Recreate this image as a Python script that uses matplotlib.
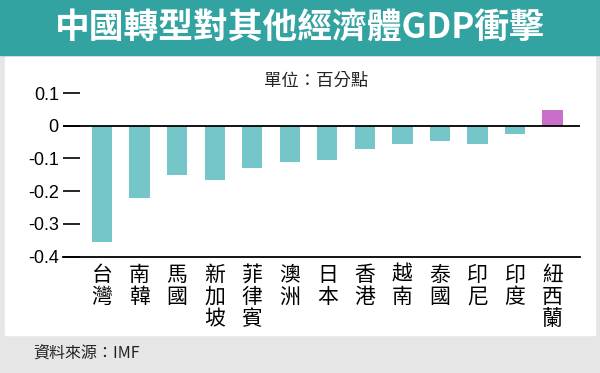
import matplotlib
matplotlib.use("Agg")
import matplotlib.pyplot as plt
from matplotlib.patches import Rectangle

categories = ["台灣", "南韓", "馬國", "新加坡", "菲律賓", "澳洲", "日本",
              "香港", "越南", "泰國", "印尼", "印度", "紐西蘭"]
values = [-0.355, -0.22, -0.15, -0.165, -0.13, -0.11, -0.105,
          -0.07, -0.056, -0.048, -0.056, -0.025, 0.048]
yticks = [0.1, 0, -0.1, -0.2, -0.3, -0.4]
yticklabels = ["0.1", "0", "-0.1", "-0.2", "-0.3", "-0.4"]

title = "中國轉型對其他經濟體GDP衝擊"
unit = "單位：百分點"
source = "資料來源：IMF"

CJK = ["Noto Sans CJK TC", "DejaVu Sans"]
teal_head = "#33a3a2"
bar_teal = "#74c6c8"
bar_purple = "#c96fc9"
frame_gray = "#e6e6e6"

W, H = 600, 373
fig = plt.figure(figsize=(6, 3.73), dpi=100)
fig.patch.set_facecolor(frame_gray)

def px_rect(x0, y0, x1, y1, color):
    fig.patches.append(Rectangle((x0 / W, 1 - y1 / H), (x1 - x0) / W, (y1 - y0) / H,
                                 transform=fig.transFigure, color=color, zorder=-5))

px_rect(0, 0, W, 55, teal_head)
px_rect(5, 57, 595, 335, "white")

fig.text(0.5, 1 - 28 / H, title, ha="center", va="center", color="white",
         fontsize=25, fontweight="bold", family=CJK)
fig.text(316 / W, 1 - 81 / H, unit, ha="center", va="center", color="#222222",
         fontsize=12.5, family=CJK)
fig.text(33 / W, 1 - 353 / H, source, ha="left", va="center", color="#222222",
         fontsize=11.5, family=CJK)

left, right = 63 / W, 580 / W
bottom, top = 1 - 256.7 / H, 1 - 93 / H
ax = fig.add_axes([left, bottom, right - left, top - bottom])
ax.set_zorder(5)
ax.set_facecolor("none")

x = list(range(len(categories)))
colors = [bar_purple if v > 0 else bar_teal for v in values]
ax.bar(x, values, width=0.54, color=colors, zorder=2)
ax.axhline(0, color="black", lw=1.3, zorder=3)

ax.set_xlim(-1.04, len(categories) - 1 + 0.73)
ax.set_ylim(-0.4, 0.1)
for s in ["top", "right", "left"]:
    ax.spines[s].set_visible(False)
ax.spines["bottom"].set_linewidth(1.3)
ax.spines["bottom"].set_zorder(4)

ax.set_yticks(yticks)
ax.set_yticklabels(yticklabels, family=["Liberation Sans", "DejaVu Sans"], fontsize=13)
ax.tick_params(axis="y", direction="in", length=12, width=1.2, pad=3, colors="black")
ax.set_xticks(x)
ax.set_xticklabels(["\n".join(c) for c in categories], family=CJK, fontsize=15,
                   va="top", linespacing=1.02)
ax.tick_params(axis="x", length=0, pad=5)

fig.savefig("out.png", dpi=100, facecolor=fig.get_facecolor())
